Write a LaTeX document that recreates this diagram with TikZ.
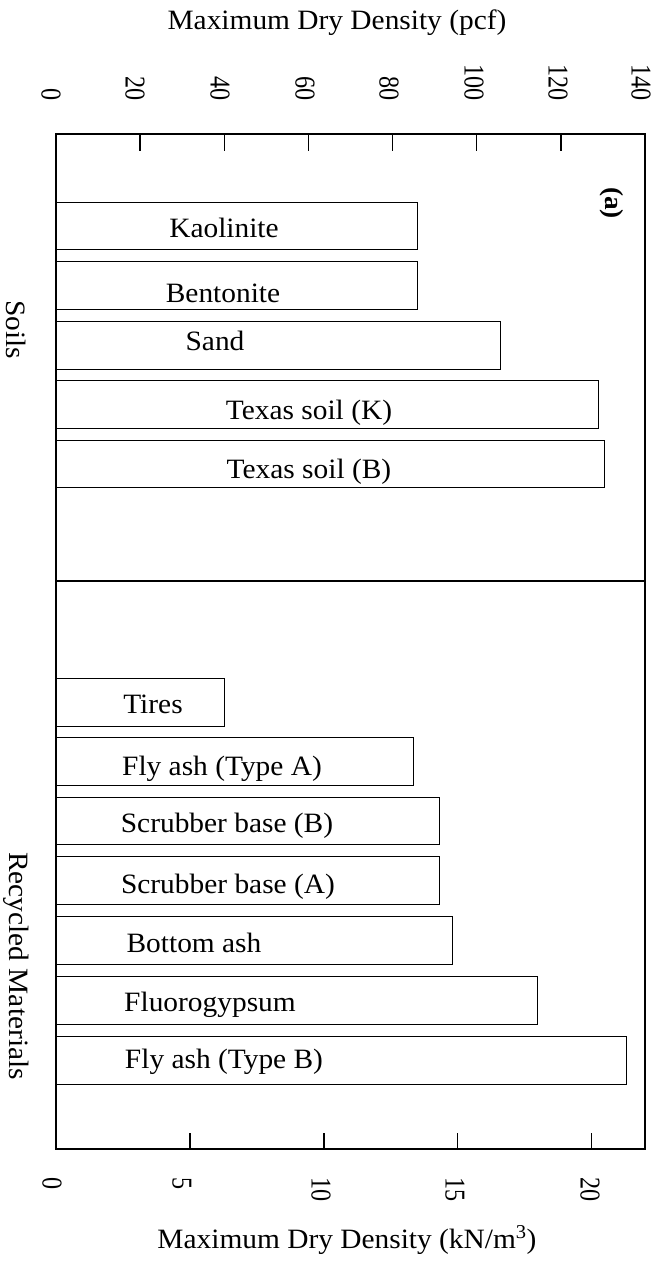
\documentclass[tikz,border=0pt]{standalone}
\usepackage{fontspec}
\setmainfont[FakeStretch=1.05]{Liberation Serif}
\newlength{\du}
\setlength{\du}{1pt}
\newcommand{\tallnum}[1]{\scalebox{1}[1.25]{#1}}

\begin{document}
\begin{tikzpicture}[
  bar/.style={draw=dialinecolor, line width=1\du},
  barlabel/.style={anchor=base, inner sep=0pt, font=\fontsize{28}{32}\selectfont},
  axtitle/.style={anchor=base, inner sep=0pt, font=\fontsize{28}{32}\selectfont},
  ticklabel/.style={rotate=-90, inner sep=0pt, font=\fontsize{23}{28}\selectfont},
  grouplabel/.style={rotate=-90, inner sep=0pt, font=\fontsize{28}{32}\selectfont}]
\pgftransformxscale{1.000000}
\pgftransformyscale{-1.000000}
\definecolor{dialinecolor}{rgb}{0.000000, 0.000000, 0.000000}
\pgfsetstrokecolor{dialinecolor}
\useasboundingbox (0\du,0\du) rectangle (661\du,1262\du);
% frame and divider
\pgfsetlinewidth{2.500000\du}
\pgfsetdash{}{0pt}
\pgfsetmiterjoin
{
\draw (56.000000\du,134.000000\du) rectangle (645.000000\du,1149.000000\du);
}
\pgfsetlinewidth{2.000000\du}
{
\draw (56.000000\du,581.000000\du)--(645.000000\du,581.000000\du);
}
% ticks, top (pcf)
\pgfsetlinewidth{1.500000\du}
\pgfsetbuttcap
{
\draw (140.100000\du,134.000000\du)--(140.100000\du,151.000000\du);
\draw (224.300000\du,134.000000\du)--(224.300000\du,151.000000\du);
\draw (308.400000\du,134.000000\du)--(308.400000\du,151.000000\du);
\draw (392.600000\du,134.000000\du)--(392.600000\du,151.000000\du);
\draw (476.700000\du,134.000000\du)--(476.700000\du,151.000000\du);
\draw (560.800000\du,134.000000\du)--(560.800000\du,151.000000\du);
}
% ticks, bottom (kN/m3)
{
\draw (189.900000\du,1149.000000\du)--(189.900000\du,1133.000000\du);
\draw (323.800000\du,1149.000000\du)--(323.800000\du,1133.000000\du);
\draw (457.700000\du,1149.000000\du)--(457.700000\du,1133.000000\du);
\draw (591.600000\du,1149.000000\du)--(591.600000\du,1133.000000\du);
}
% soils
\draw[bar] (56.000000\du,202.000000\du) rectangle (417.000000\du,249.000000\du);
\draw[bar] (56.000000\du,261.000000\du) rectangle (417.000000\du,309.000000\du);
\draw[bar] (56.000000\du,321.000000\du) rectangle (500.000000\du,369.000000\du);
\draw[bar] (56.000000\du,380.000000\du) rectangle (598.000000\du,428.000000\du);
\draw[bar] (56.000000\du,440.000000\du) rectangle (604.000000\du,487.000000\du);
% recycled materials
\draw[bar] (56.000000\du,678.000000\du) rectangle (224.000000\du,726.000000\du);
\draw[bar] (56.000000\du,737.000000\du) rectangle (413.000000\du,785.000000\du);
\draw[bar] (56.000000\du,797.000000\du) rectangle (439.000000\du,844.000000\du);
\draw[bar] (56.000000\du,856.000000\du) rectangle (439.000000\du,904.000000\du);
\draw[bar] (56.000000\du,916.000000\du) rectangle (452.000000\du,964.000000\du);
\draw[bar] (56.000000\du,976.000000\du) rectangle (537.000000\du,1024.000000\du);
\draw[bar] (56.000000\du,1036.000000\du) rectangle (626.000000\du,1084.000000\du);
% setfont left to latex
\node[barlabel] (kaolinite) at (224.000000\du,237.000000\du){Kaolinite};
\node[barlabel] (bentonite) at (223.000000\du,302.000000\du){Bentonite};
\node[barlabel] (sand) at (215.000000\du,350.000000\du){Sand};
\node[barlabel] (texask) at (309.000000\du,419.000000\du){Texas soil (K)};
\node[barlabel] (texasb) at (309.000000\du,478.000000\du){Texas soil (B)};
% setfont left to latex
\node[barlabel] (tires) at (153.000000\du,713.000000\du){Tires};
\node[barlabel] (flyasha) at (222.000000\du,775.000000\du){Fly ash (Type A)};
\node[barlabel] (scrubberb) at (227.000000\du,832.000000\du){Scrubber base (B)};
\node[barlabel] (scrubbera) at (228.000000\du,893.000000\du){Scrubber base (A)};
\node[barlabel] (bottomash) at (194.000000\du,952.000000\du){Bottom ash};
\node[barlabel] (fluorogypsum) at (210.000000\du,1011.000000\du){Fluorogypsum};
\node[barlabel] (flyashb) at (224.000000\du,1068.000000\du){Fly ash (Type B)};
% setfont left to latex
\node[ticklabel, font=\fontsize{26}{30}\bfseries] (panel) at (612.000000\du,203.000000\du){(a)};
\node[grouplabel] (soils) at (16.000000\du,330.000000\du){Soils};
\node[grouplabel] (recycled) at (16.000000\du,966.000000\du){Recycled Materials};
% setfont left to latex
\node[axtitle] (pcftitle) at (337.000000\du,29.000000\du){Maximum Dry Density (pcf)};
\node[axtitle] (kntitle) at (347.000000\du,1248.000000\du){Maximum Dry Density (kN/m\textsuperscript{3})};
% setfont left to latex
\node[ticklabel, anchor=east] (p0) at (51.000000\du,101.000000\du){\tallnum{0}};
\node[ticklabel, anchor=east] (p20) at (135.000000\du,101.000000\du){\tallnum{20}};
\node[ticklabel, anchor=east] (p40) at (220.000000\du,101.000000\du){\tallnum{40}};
\node[ticklabel, anchor=east] (p60) at (305.000000\du,101.000000\du){\tallnum{60}};
\node[ticklabel, anchor=east] (p80) at (389.000000\du,101.000000\du){\tallnum{80}};
\node[ticklabel, anchor=east] (p100) at (474.000000\du,101.000000\du){\tallnum{100}};
\node[ticklabel, anchor=east] (p120) at (558.000000\du,101.000000\du){\tallnum{120}};
\node[ticklabel, anchor=east] (p140) at (641.000000\du,101.000000\du){\tallnum{140}};
% setfont left to latex
\node[ticklabel, anchor=west] (k0) at (52.000000\du,1177.000000\du){\tallnum{0}};
\node[ticklabel, anchor=west] (k5) at (182.000000\du,1177.000000\du){\tallnum{5}};
\node[ticklabel, anchor=west] (k10) at (321.000000\du,1177.000000\du){\tallnum{10}};
\node[ticklabel, anchor=west] (k15) at (455.000000\du,1177.000000\du){\tallnum{15}};
\node[ticklabel, anchor=west] (k20) at (590.000000\du,1177.000000\du){\tallnum{20}};
\end{tikzpicture}
\end{document}
